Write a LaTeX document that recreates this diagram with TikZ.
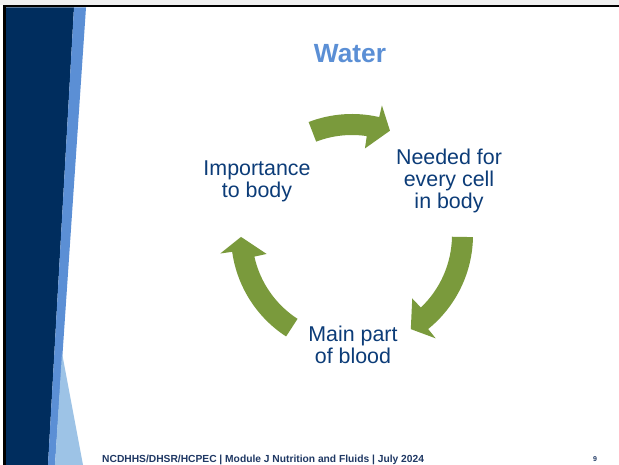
\documentclass[tikz,border=0pt]{standalone}
\usepackage{fontspec}
\setmainfont{Liberation Sans}
\usepackage{xcolor}
\usepackage{tikz}
\definecolor{navy}{HTML}{002D5E}
\definecolor{midblue}{HTML}{5B8FD5}
\definecolor{paleblue}{HTML}{9DC3E6}
\definecolor{textblue}{HTML}{0C3C78}
\definecolor{footblue}{HTML}{1F3864}
\definecolor{leafgreen}{HTML}{7A9A3C}
% curved block arrow on the cycle: #1 tail angle, #2 tip angle
\newcommand{\cyclearrow}[2]{%
  \fill[leafgreen] (#1:121) arc[start angle=#1, end angle=#2+7, radius=121]
    -- (#2+7:133) -- (#2:111) -- (#2+11.5:87.5) -- (#2+11.5:100)
    arc[start angle=#2+11.5, end angle=#1, radius=100] -- cycle;}

\begin{document}
\begin{tikzpicture}
[x=1pt,y=1pt,
cyclelabel/.style={align=center,text=textblue,inner sep=0pt,font=\fontsize{21.4}{22}\selectfont},
headline/.style={text=midblue,font=\bfseries\fontsize{26.3}{30}\selectfont},
footer/.style={text=footblue,inner sep=0pt,font=\bfseries\fontsize{10.25}{12}\selectfont}]

\useasboundingbox (0,0) rectangle (619,465);
\fill[white] (0,0) rectangle (619,465);
\fill[gray!12] (0,460) rectangle (619,465);
\fill[black] (3,457.5) rectangle (619,460);
\fill[black] (3,0) rectangle (6,460);
\fill[navy] (6,0) -- (6,457.5) -- (74,457.5) -- (48,0) -- cycle;
\fill[midblue] (48,0) -- (74,457.5) -- (86,457.5) -- (55,0) -- cycle;
\fill[paleblue] (55,0) -- (62,112) -- (83,0) -- cycle;

\node at (350,402) [anchor=base,headline] (water) {Water};

\begin{scope}[shift={(352,230)}]
\cyclearrow{111}{70}
\cyclearrow{-1}{-58}
\cyclearrow{237}{181}
\end{scope}

\node at (257,284) [cyclelabel] (importance) {Importance\\to body};
\node at (449,284) [cyclelabel] (needed) {Needed for\\every cell\\in body};
\node at (353,120) [cyclelabel] (blood) {Main part\\of blood};

\node at (102,2.5) [anchor=base west,footer] (module) {NCDHHS/DHSR/HCPEC | Module J Nutrition and Fluids | July 2024};
\node at (595,3) [anchor=base,text=footblue,inner sep=0pt,font=\bfseries\fontsize{7}{8}\selectfont] (page) {9};
\end{tikzpicture}
\end{document}
